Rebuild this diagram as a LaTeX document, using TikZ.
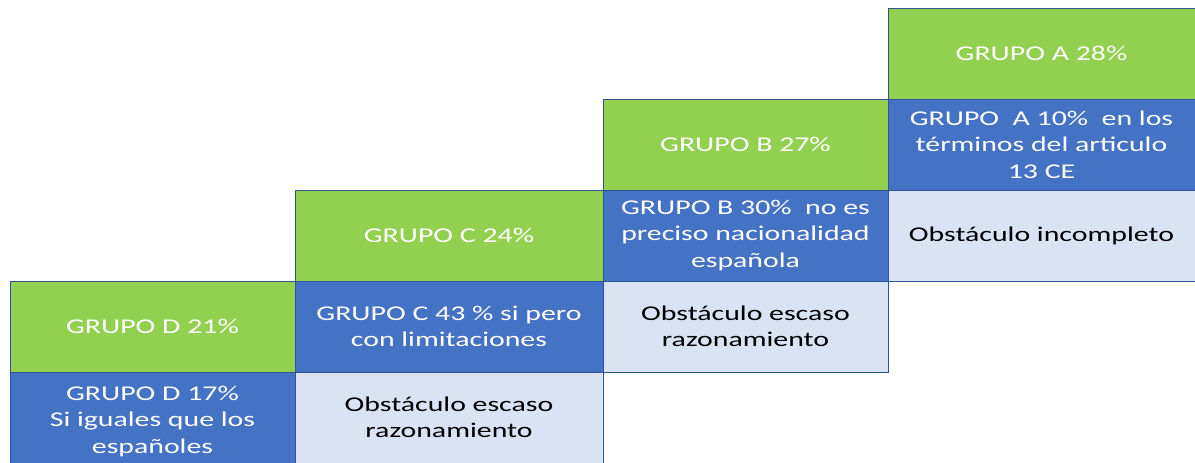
\documentclass[tikz,border=0pt]{standalone}
\usepackage{fontspec}
\setmainfont{Carlito}[FakeStretch=1.42]
\usetikzlibrary{positioning}
\definecolor{grupogreen}{HTML}{92D050}
\definecolor{grupoblue}{HTML}{4472C4}
\definecolor{grupolight}{HTML}{DAE3F3}
\definecolor{grupoline}{HTML}{2F5597}

\tikzset{
cell/.style={draw=grupoline, line width=0.8pt, inner sep=0pt, outer sep=0pt,
  minimum height=91pt, align=center, font=\fontsize{21}{26.5}\selectfont},
topcell/.style={cell, fill=grupogreen, text=white},
midcell/.style={cell, fill=grupoblue, text=white},
lowcell/.style={cell, fill=grupolight, text=black}
}

\begin{document}
\begin{tikzpicture}[x=1pt,y=1pt]
\useasboundingbox (0,0) rectangle (1195,463);
\clip (0,0) rectangle (1195,463);
% grupo D
\node[topcell, minimum width=285pt, anchor=north west] (topD) at (10,182) {GRUPO D 21\%};
\node[midcell, minimum width=285pt, minimum height=99pt, below=0pt of topD] (midD) {GRUPO D 17\%\\ Si iguales que los\\ españoles};
% grupo C
\node[topcell, minimum width=308pt, anchor=north west] (topC) at (295,273) {GRUPO C 24\%};
\node[midcell, minimum width=308pt, below=0pt of topC] (midC) {GRUPO C 43 \% si pero\\ con limitaciones};
\node[lowcell, minimum width=308pt, below=0pt of midC] (lowC) {Obstáculo escaso\\ razonamiento};
% grupo B
\node[topcell, minimum width=285pt, anchor=north west] (topB) at (603,364) {GRUPO B 27\%};
\node[midcell, minimum width=285pt, below=0pt of topB] (midB) {GRUPO B 30\%\ \ no es\\ preciso nacionalidad\\ española};
\node[lowcell, minimum width=285pt, below=0pt of midB] (lowB) {Obstáculo escaso\\ razonamiento};
% grupo A
\node[topcell, minimum width=307pt, anchor=north west] (topA) at (888,455) {GRUPO A 28\%};
\node[midcell, minimum width=307pt, below=0pt of topA] (midA) {GRUPO\ \ A 10\%\ \ en los\\ términos del articulo\\ 13 CE};
\node[lowcell, minimum width=307pt, below=0pt of midA] (lowA) {Obstáculo incompleto};
\end{tikzpicture}
\end{document}
